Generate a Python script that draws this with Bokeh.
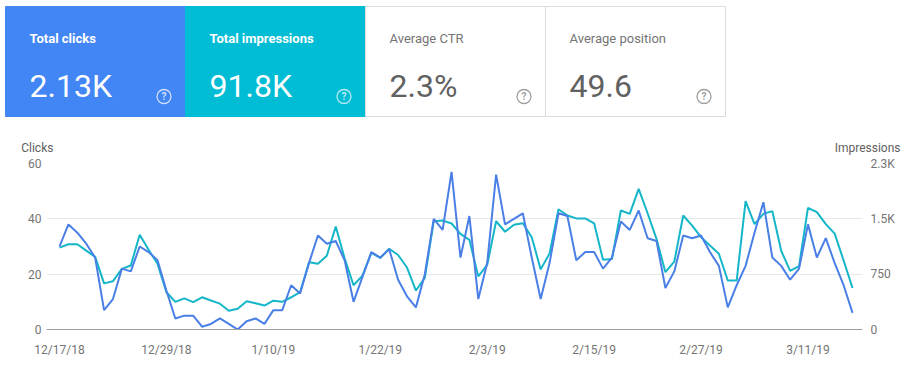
import pandas as pd
from bokeh.plotting import figure
from bokeh.models import Range1d, LinearAxis, FixedTicker, ColumnDataSource
from bokeh.layouts import column
from bokeh.embed import file_html
from bokeh.resources import INLINE
from bokeh.core.properties import value

# ---------------- data ----------------
start_date = "2018-12-17"
clicks = [30, 38, 35, 31, 26, 7, 11, 22, 21, 30,
          28, 25, 14, 4, 5, 5, 1, 2, 4, 2,
          0, 3, 4, 2, 7, 7, 16, 13, 24, 34,
          31, 32, 25, 10, 19, 28, 26, 29, 18, 12,
          8, 20, 40, 36, 57, 26, 41, 11, 24, 56,
          38, 40, 42, 26, 11, 24, 42, 41, 25, 28,
          28, 22, 26, 39, 36, 43, 33, 32, 15, 21,
          34, 33, 34, 28, 23, 8, 16, 23, 35, 46,
          26, 23, 18, 22, 38, 26, 33, 24, 16, 6]
impressions = [1110, 1155, 1155, 1070, 985, 625, 655, 822, 867, 1285,
               1080, 890, 505, 375, 422, 370, 437, 393, 350, 255,
               280, 383, 357, 325, 390, 375, 437, 505, 911, 890,
               1000, 1396, 965, 600, 731, 1038, 970, 1094, 1010, 840,
               528, 700, 1467, 1477, 1437, 1297, 1215, 720, 875, 1467,
               1325, 1420, 1440, 1250, 815, 1030, 1630, 1545, 1506, 1506,
               1440, 944, 956, 1613, 1568, 1906, 1576, 1229, 777, 921,
               1545, 1409, 1251, 1138, 1026, 664, 664, 1739, 1428, 1568,
               1604, 1065, 795, 860, 1649, 1590, 1428, 1300, 935, 562]
x_tick_labels = ["12/17/18", "12/29/18", "1/10/19", "1/22/19",
                 "2/3/19", "2/15/19", "2/27/19", "3/11/19"]
left_ticks = [0, 20, 40, 60]
right_ticks = [0, 750, 1500, 2250]
right_tick_labels = ["0", "750", "1.5K", "2.3K"]
axis_titles = ["Clicks", "Impressions"]

tile_titles = ["Total clicks", "Total impressions", "Average CTR", "Average position"]
tile_values = ["2.13K", "91.8K", "2.3%", "49.6"]

# ---------------- styles ----------------
FONT = "Roboto"
W = 915
H = 382
BLUE_TILE = "#4285f4"
TEAL_TILE = "#00bcd4"
CLICK_LINE = "#4a7fe6"
IMP_LINE = "#14b6c8"
GREY_TXT = "#757575"

# ---------------- header: tiles + axis titles ----------------
TH = 155
top = figure(width=W, height=TH, x_range=Range1d(0, W), y_range=Range1d(TH, 0),
             output_backend="svg", toolbar_location=None, min_border=0,
             x_axis_location=None, y_axis_location=None, outline_line_color=None)
top.grid.visible = False
top.background_fill_color = "white"
top.border_fill_color = "white"

tile_w = 180
lefts = [5 + tile_w * k for k in range(4)]
tsrc = ColumnDataSource(dict(
    left=lefts, right=[l + tile_w for l in lefts],
    top=[6] * 4, bottom=[116] * 4,
    fill=[BLUE_TILE, TEAL_TILE, "white", "white"],
    line=[BLUE_TILE, TEAL_TILE, "#dadce0", "#dadce0"],
    tx=[l + 24 for l in lefts], ty=[37.5] * 4, vy=[85] * 4,
    qx=[l + 158.5 for l in lefts], qy=[96] * 4,
    title=tile_titles, val=tile_values,
    tstyle=["bold", "bold", "normal", "normal"],
    tcol=["white", "white", GREY_TXT, GREY_TXT],
    vcol=["white", "white", "#616161", "#616161"],
    qcol=["#cfe0fc", "#b5ecf3", "#9e9e9e", "#9e9e9e"],
))
top.quad(left="left", right="right", top="top", bottom="bottom", source=tsrc,
         fill_color="fill", line_color="line", line_width=1)
top.text(x="tx", y="ty", text="title", source=tsrc, text_color="tcol",
         text_font=value(FONT), text_font_size="13px", text_baseline="middle",
         text_font_style="tstyle")
top.text(x="tx", y="vy", text="val", source=tsrc, text_color="vcol",
         text_font=value(FONT), text_font_size="32px", text_baseline="alphabetic")
top.scatter(x="qx", y="qy", source=tsrc, size=14, marker="circle",
            fill_color=None, line_color="qcol", line_width=1.3)
top.text(x="qx", y="qy", text=value("?"), source=tsrc, text_color="qcol",
         text_font=value(FONT), text_font_size="10px", text_align="center",
         text_baseline="middle", text_font_style="bold")

# axis titles (sit above the plot frame)
top.text(x=[20.7, 900], y=[147, 147], text=axis_titles, text_color="#616161",
         text_font=value(FONT), text_font_size="12px", text_baseline="middle",
         text_align=["left", "right"])

# ---------------- chart ----------------
dates = pd.date_range(start_date, periods=len(clicks), freq="D")
src = ColumnDataSource(dict(date=dates, clicks=clicks, impressions=impressions))

day_ms = 86400000.0
first_ms = dates[0].value / 1e6
last_ms = dates[-1].value / 1e6
x0 = first_ms - 1.46 * day_ms
x1 = last_ms + 1.12 * day_ms

p = figure(width=W, height=H - TH, x_axis_type="datetime",
           x_range=Range1d(x0, x1), y_range=Range1d(0, 60),
           output_backend="svg", toolbar_location=None,
           min_border_left=46, min_border_right=53, min_border_top=8, min_border_bottom=53,
           outline_line_color=None)
p.background_fill_color = "white"
p.border_fill_color = "white"
p.extra_y_ranges = {"imp": Range1d(0, 2250)}

p.line("date", "impressions", source=src, y_range_name="imp", line_color=IMP_LINE, line_width=2)
p.line("date", "clicks", source=src, line_color=CLICK_LINE, line_width=2)

tick_ms = [int(pd.to_datetime(t, format="%m/%d/%y").value // 10**6) for t in x_tick_labels]
xa = p.xaxis[0]
xa.ticker = FixedTicker(ticks=tick_ms)
xa.major_label_overrides = {k: v for k, v in zip(tick_ms, x_tick_labels)}
xa.axis_line_color = "#9e9e9e"
xa.axis_line_width = 1
xa.major_tick_line_color = None
xa.minor_tick_line_color = None
xa.major_tick_out = 0
xa.minor_tick_out = 0
xa.major_label_standoff = 13
xa.major_label_text_font = FONT
xa.major_label_text_font_size = "12px"
xa.major_label_text_color = GREY_TXT

ya = p.yaxis[0]
ya.ticker = FixedTicker(ticks=left_ticks)
ya.axis_line_color = None
ya.major_tick_line_color = None
ya.minor_tick_line_color = None
ya.major_tick_out = 0
ya.minor_tick_out = 0
ya.major_label_standoff = 5
ya.major_label_text_font = FONT
ya.major_label_text_font_size = "12px"
ya.major_label_text_color = GREY_TXT

ra = LinearAxis(y_range_name="imp", ticker=FixedTicker(ticks=right_ticks),
                major_label_overrides={k: v for k, v in zip(right_ticks, right_tick_labels)})
ra.axis_line_color = None
ra.major_tick_line_color = None
ra.minor_tick_line_color = None
ra.major_tick_out = 0
ra.minor_tick_out = 0
ra.major_label_standoff = 8
ra.major_label_text_font = FONT
ra.major_label_text_font_size = "12px"
ra.major_label_text_color = GREY_TXT
p.add_layout(ra, "right")

p.xgrid.grid_line_color = None
p.ygrid.grid_line_color = "#e8e8e8"

layout = column(column(top), column(p), spacing=0)
open("out.html", "w").write(file_html(layout, INLINE))
